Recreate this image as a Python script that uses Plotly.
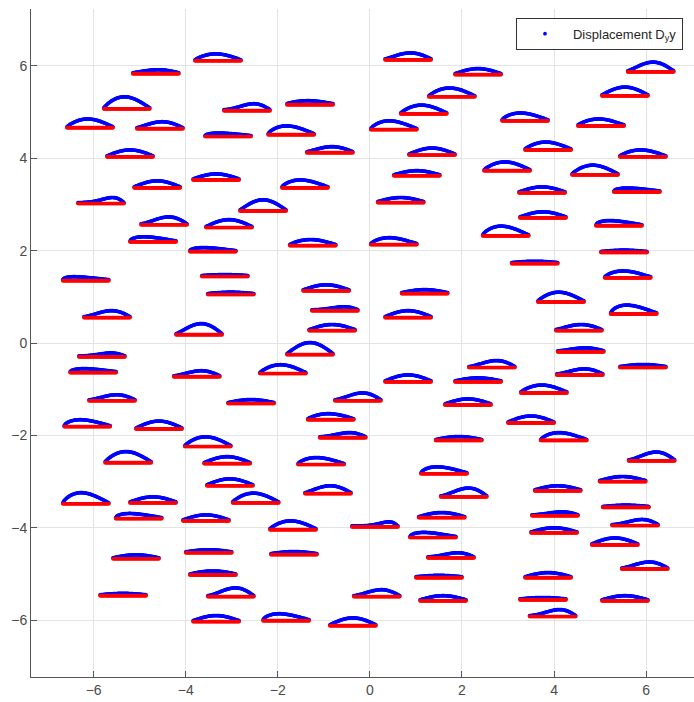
import numpy as np
import plotly.graph_objects as go

# Fiber segments: left end x, base y, hump height of the displaced curve, relative peak position
fiber_x0 = [-3.80, 0.33, -5.15, 1.85, 5.60, -5.78, -3.17, -1.80, 1.28, 5.04,
            0.67, -6.58, -5.06, 0.02, 2.87, 4.52, -3.58, -2.21, 3.37, -5.71,
            -1.37, 0.85, 5.43, 4.39, 2.48, 0.52, -3.84, -5.12, -1.91, 3.24,
            5.30, -6.34, 0.17, -2.82, 3.26, -4.97, -3.56, 4.91, 2.45, -5.21,
            -1.74, 0.02, -3.91, 5.02, 3.08, -6.67, -3.65, 5.10, -3.52, -1.45,
            0.69, 3.65, -6.21, -1.26, 5.23, 0.33, -1.32, 4.04, -4.21, -1.80,
            -6.32, 4.08, -6.51, -2.39, 2.15, 5.43, -4.26, 4.06, 0.33, 1.85,
            3.28, -6.10, -0.76, -3.08, 1.63, -1.35, 3.00, -6.64, -5.08, -1.09,
            1.43, 3.71, -4.02, -5.75, -3.60, -1.56, 5.62, 1.11, -3.54, 4.99,
            -1.41, 1.54, 3.58, -6.67, -5.21, -2.98, 5.06, -5.52, -4.06, 3.52,
            1.06, 5.26, -2.17, -0.39, 3.50, 0.87, 4.82, -4.00, -2.15, -5.58,
            1.26, 5.47, -3.91, 1.00, 3.37, -5.86, -3.52, -0.35, 1.09, 3.26,
            5.04, 3.47, -3.84, -2.32, -0.87]

fiber_y0 = [6.11, 6.13, 5.83, 5.81, 5.87, 5.07, 5.03, 5.16, 5.33, 5.35,
            4.96, 4.66, 4.64, 4.62, 4.81, 4.70, 4.47, 4.51, 4.18, 4.03,
            4.12, 4.07, 4.03, 3.64, 3.73, 3.62, 3.53, 3.36, 3.36, 3.25,
            3.27, 3.02, 3.04, 2.86, 2.71, 2.56, 2.50, 2.54, 2.32, 2.19,
            2.11, 2.13, 1.98, 1.96, 1.72, 1.35, 1.44, 1.41, 1.05, 1.13,
            1.07, 0.89, 0.55, 0.70, 0.63, 0.55, 0.27, 0.27, 0.18, -0.25,
            -0.30, -0.19, -0.64, -0.66, -0.53, -0.53, -0.73, -0.69, -0.84, -0.84,
            -1.08, -1.25, -1.25, -1.31, -1.34, -1.66, -1.73, -1.81, -1.86, -2.05,
            -2.11, -2.11, -2.24, -2.59, -2.61, -2.63, -2.55, -2.83, -3.09, -3.00,
            -3.26, -3.33, -3.20, -3.48, -3.46, -3.46, -3.56, -3.80, -3.85, -3.74,
            -3.78, -3.95, -4.04, -3.98, -4.11, -4.21, -4.37, -4.54, -4.58, -4.67,
            -4.65, -4.89, -5.02, -5.08, -5.08, -5.47, -5.49, -5.49, -5.58, -5.56,
            -5.58, -5.92, -6.03, -6.01, -6.12]

hump_height = [0.13, 0.13, 0.065, 0.11, 0.19, 0.24, 0.13, 0.065, 0.17, 0.17,
               0.17, 0.17, 0.13, 0.17, 0.15, 0.13, 0.055, 0.17, 0.15, 0.13,
               0.11, 0.13, 0.13, 0.19, 0.17, 0.09, 0.11, 0.13, 0.15, 0.11,
               0.065, 0.11, 0.09, 0.22, 0.11, 0.15, 0.15, 0.09, 0.19, 0.09,
               0.11, 0.13, 0.065, 0.03, 0.03, 0.065, 0.02, 0.13, 0.03, 0.11,
               0.065, 0.19, 0.13, 0.065, 0.17, 0.13, 0.11, 0.11, 0.22, 0.24,
               0.065, 0.065, 0.065, 0.17, 0.13, 0.045, 0.11, 0.11, 0.13, 0.065,
               0.15, 0.11, 0.15, 0.065, 0.11, 0.11, 0.13, 0.13, 0.15, 0.09,
               0.065, 0.15, 0.19, 0.22, 0.13, 0.13, 0.17, 0.13, 0.13, 0.09,
               0.15, 0.17, 0.09, 0.22, 0.11, 0.19, 0.03, 0.09, 0.11, 0.065,
               0.09, 0.11, 0.17, 0.09, 0.09, 0.09, 0.13, 0.045, 0.045, 0.065,
               0.09, 0.13, 0.065, 0.03, 0.09, 0.03, 0.17, 0.13, 0.09, 0.03,
               0.09, 0.13, 0.11, 0.13, 0.15]

hump_peak = [0.45, 0.55, 0.55, 0.5, 0.55, 0.45, 0.65, 0.45, 0.45, 0.5,
             0.45, 0.45, 0.55, 0.4, 0.4, 0.45, 0.3, 0.4, 0.45, 0.5,
             0.55, 0.5, 0.45, 0.45, 0.45, 0.5, 0.5, 0.5, 0.4, 0.5,
             0.3, 0.75, 0.5, 0.5, 0.5, 0.6, 0.5, 0.3, 0.4, 0.3,
             0.45, 0.4, 0.3, 0.5, 0.5, 0.25, 0.5, 0.4, 0.5, 0.5,
             0.5, 0.45, 0.6, 0.7, 0.35, 0.5, 0.5, 0.55, 0.55, 0.5,
             0.7, 0.6, 0.3, 0.45, 0.6, 0.5, 0.6, 0.6, 0.5, 0.5,
             0.45, 0.6, 0.6, 0.5, 0.5, 0.45, 0.5, 0.35, 0.5, 0.65,
             0.5, 0.4, 0.45, 0.45, 0.5, 0.4, 0.6, 0.35, 0.5, 0.5,
             0.55, 0.6, 0.5, 0.4, 0.5, 0.45, 0.5, 0.3, 0.5, 0.65,
             0.5, 0.65, 0.45, 0.8, 0.5, 0.3, 0.5, 0.5, 0.5, 0.5,
             0.65, 0.6, 0.5, 0.5, 0.5, 0.5, 0.6, 0.6, 0.5, 0.5,
             0.5, 0.65, 0.5, 0.35, 0.5]

FIBER_LENGTH = 1.0
BASE_LIFT = 0.02
N_PTS = 60

t = np.linspace(0.0, 1.0, N_PTS)
red_x, red_y, blue_x, blue_y = [], [], [], []
for x0, y0, h, p in zip(fiber_x0, fiber_y0, hump_height, hump_peak):
    xs = x0 + FIBER_LENGTH * t
    a = np.log(0.5) / np.log(p)          # exponent placing the maximum at t = p
    bump = np.sin(np.pi * t ** a)
    red_x.append(xs)
    red_y.append(np.full_like(t, y0))
    blue_x.append(xs)
    blue_y.append(y0 + BASE_LIFT + h * bump)

red_x = np.concatenate(red_x)
red_y = np.concatenate(red_y)
blue_x = np.concatenate(blue_x)
blue_y = np.concatenate(blue_y)

fig = go.Figure()
fig.add_trace(go.Scatter(
    x=blue_x, y=blue_y, mode="markers",
    marker=dict(color="#0000ff", size=3.7, line=dict(width=0)),
    name="Displacement D<sub>y</sub>y", showlegend=True,
))
fig.add_trace(go.Scatter(
    x=red_x, y=red_y, mode="markers",
    marker=dict(color="#ff0000", size=3.7, line=dict(width=0)),
    name="Reference", showlegend=False,
))

axis_common = dict(
    showgrid=True, gridcolor="#e3e3e3", gridwidth=1,
    zeroline=False, showline=True, linecolor="#555555", linewidth=1,
    ticks="inside", ticklen=6, tickcolor="#555555",
    tickfont=dict(family="Liberation Sans, Arial, sans-serif", size=14, color="#4a4a4a"),
    tickvals=[-6, -4, -2, 0, 2, 4, 6],
    mirror=False,
)

fig.update_layout(
    width=694, height=702,
    margin=dict(l=31, r=0, t=9, b=25),
    paper_bgcolor="white", plot_bgcolor="white",
    xaxis=dict(range=[-7.36, 7.04], **axis_common),
    yaxis=dict(range=[-7.23, 7.23], **axis_common),
    legend=dict(
        x=0.7315, y=0.987, xanchor="left", yanchor="top",
        bgcolor="white", bordercolor="#333333", borderwidth=1,
        font=dict(family="Liberation Sans, Arial, sans-serif", size=13, color="#262626"),
        itemwidth=46,
    ),
    showlegend=True,
)

fig.write_html("out.html")
